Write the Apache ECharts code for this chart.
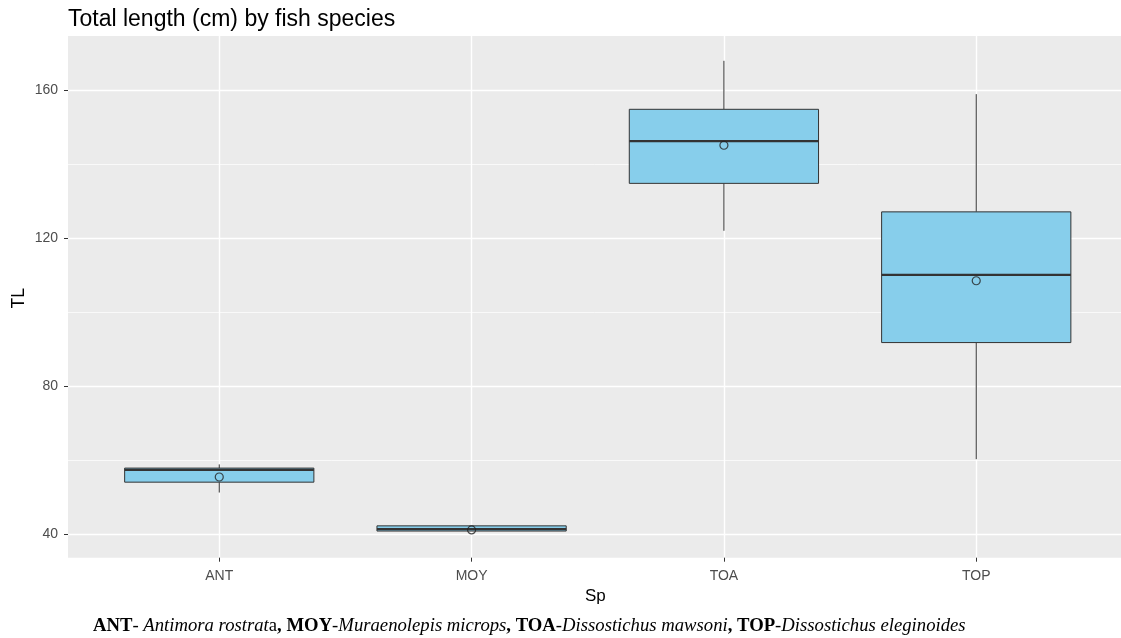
<!DOCTYPE html>
<html style="height: 100%">
   <head>
       <meta charset="utf-8">
   </head>
   <body style="height: 100%; margin: 0; background: #fff">
       <div id="container" style="width: 1121px; height: 638px"></div>
       <script type="text/javascript" src="https://cdn.jsdelivr.net/npm/echarts@6/dist/echarts.min.js"></script>
       <script type="text/javascript">
// species codes and box statistics (cm)
var categories = ['ANT', 'MOY', 'TOA', 'TOP'];
var whiskerLow = [51.3, 40.9, 122.0, 60.3];
var q1 = [54.1, 40.9, 134.8, 91.8];
var medians = [57.4, 41.4, 146.2, 110.1];
var q3 = [57.9, 42.3, 154.8, 127.1];
var whiskerHigh = [58.9, 42.3, 167.9, 158.9];
var means = [55.5, 41.2, 145.1, 108.5];

var yTicks = [40, 80, 120, 160];
var yMinor = [60, 100, 140];

var dom = document.getElementById("container");
var myChart = echarts.init(dom, null, {renderer: 'canvas'});
var option = null;

var boxData = [];
for (var i = 0; i < categories.length; i++) {
    boxData.push([categories[i], whiskerLow[i], q1[i], medians[i], q3[i], whiskerHigh[i]]);
}
var meanData = [];
for (var i = 0; i < categories.length; i++) {
    meanData.push([categories[i], means[i]]);
}

var edge = '#333333';

function renderBox(params, api) {
    var x = api.value(0);
    var half = api.size([1, 0])[0] * 0.375;
    var pLow = api.coord([x, api.value(1)]);
    var pQ1 = api.coord([x, api.value(2)]);
    var pMed = api.coord([x, api.value(3)]);
    var pQ3 = api.coord([x, api.value(4)]);
    var pHigh = api.coord([x, api.value(5)]);
    return {
        type: 'group',
        children: [
            {type: 'line', shape: {x1: pLow[0], y1: pLow[1], x2: pQ1[0], y2: pQ1[1]}, style: {stroke: edge, lineWidth: 1}},
            {type: 'line', shape: {x1: pQ3[0], y1: pQ3[1], x2: pHigh[0], y2: pHigh[1]}, style: {stroke: edge, lineWidth: 1}},
            {type: 'rect', shape: {x: pQ3[0] - half, y: pQ3[1], width: half * 2, height: pQ1[1] - pQ3[1]},
                style: {fill: '#87CEEB', stroke: edge, lineWidth: 1}},
            {type: 'line', shape: {x1: pMed[0] - half, y1: pMed[1], x2: pMed[0] + half, y2: pMed[1]},
                style: {stroke: edge, lineWidth: 2.2}}
        ]
    };
}

var yMin = 33.7, yMax = 174.6;
var font = 'Liberation Sans, Arial, sans-serif';
var serif = 'Liberation Serif, Times New Roman, serif';

option = {
    backgroundColor: '#ffffff',
    animation: false,
    title: {
        text: 'Total length (cm) by fish species',
        left: 63,
        top: 3,
        textStyle: {fontSize: 23, fontWeight: 'normal', color: '#000', fontFamily: font}
    },
    grid: [
        // panel
        {left: 68, right: 0, top: 36, bottom: 80.3, show: true, backgroundColor: '#EBEBEB', borderWidth: 0},
        // boxes
        {left: 93.1, right: 18.6, top: 36, bottom: 80.3},
        // vertical grid lines through category centres
        {left: 219.4, right: 144.7, top: 36, bottom: 80.3}
    ],
    xAxis: [
        {gridIndex: 0, type: 'value', show: false, min: 0, max: 1},
        {
            gridIndex: 1, type: 'category', data: categories,
            axisLine: {show: false},
            axisTick: {show: true, alignWithLabel: true, length: 4, lineStyle: {color: edge}},
            axisLabel: {color: '#4D4D4D', fontSize: 14, margin: 11, fontFamily: font},
            splitLine: {show: false}
        },
        {
            gridIndex: 2, type: 'category', data: categories, boundaryGap: false,
            axisLine: {show: false}, axisTick: {show: false}, axisLabel: {show: false},
            splitLine: {show: true, lineStyle: {color: '#ffffff', width: 1.4}}
        }
    ],
    yAxis: [
        {
            gridIndex: 0, type: 'value', min: yMin, max: yMax, minInterval: 40, maxInterval: 40,
            axisLine: {show: false},
            axisTick: {show: true, length: 4, customValues: yTicks, lineStyle: {color: edge}},
            axisLabel: {color: '#4D4D4D', fontSize: 14, margin: 10, customValues: yTicks, fontFamily: font},
            splitLine: {show: true, lineStyle: {color: '#ffffff', width: 1.4}}
        },
        {
            gridIndex: 0, type: 'value', min: yMin, max: yMax, minInterval: 20, maxInterval: 20,
            axisLine: {show: false},
            axisTick: {show: false, customValues: yMinor},
            axisLabel: {show: false},
            splitLine: {show: true, lineStyle: {color: '#ffffff', width: 0.7}}
        },
        {gridIndex: 1, type: 'value', min: yMin, max: yMax, show: false, splitLine: {show: false}},
        {gridIndex: 2, type: 'value', min: yMin, max: yMax, show: false, splitLine: {show: false}}
    ],
    graphic: [
        {
            type: 'text', left: 10, top: 288, rotation: Math.PI / 2,
            style: {text: 'TL', fontSize: 17.5, fill: '#000', fontFamily: font}
        },
        {
            type: 'text', left: 585, top: 588,
            style: {text: 'Sp', fontSize: 17, fill: '#000', fontFamily: font}
        },
        {
            type: 'text', left: 93, top: 617,
            style: {
                text: '{b|ANT}{r|- }{i|Antimora rostrat}{r|a}{b|, MOY}{r|-}{i|Muraenolepis microps}{b|, TOA}{i|-Dissostichus mawsoni}{b|, TOP}{i|-Dissostichus eleginoides}',
                fontSize: 18.7, fill: '#000', fontFamily: serif,
                rich: {
                    b: {fontWeight: 'bold', fontSize: 18.7, fontFamily: serif, fill: '#000'},
                    r: {fontSize: 18.7, fontFamily: serif, fill: '#000'},
                    i: {fontStyle: 'italic', fontSize: 18.7, fontFamily: serif, fill: '#000'}
                }
            }
        }
    ],
    series: [
        {
            name: 'TL',
            type: 'custom',
            xAxisIndex: 1,
            yAxisIndex: 2,
            renderItem: renderBox,
            encode: {x: 0, y: [1, 2, 3, 4, 5]},
            data: boxData,
            z: 3
        },
        {
            name: 'mean',
            type: 'scatter',
            xAxisIndex: 1,
            yAxisIndex: 2,
            symbol: 'circle',
            symbolSize: 8,
            itemStyle: {color: 'rgba(0,0,0,0)', borderColor: '#222', borderWidth: 1.2},
            data: meanData,
            z: 4
        }
    ]
};
if (option && typeof option === "object") {
    myChart.setOption(option, true);
}
       </script>
   </body>
</html>
